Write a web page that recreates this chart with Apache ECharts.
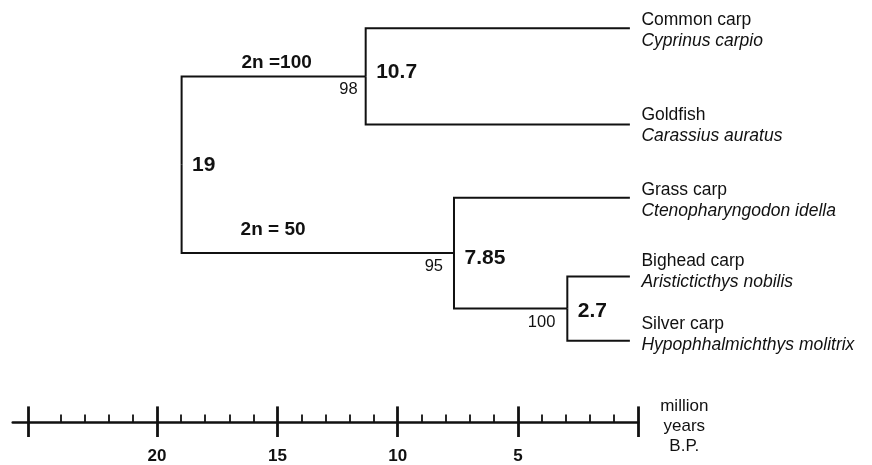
<!DOCTYPE html>
<html><head><meta charset="utf-8">
<script src="https://cdn.jsdelivr.net/npm/echarts@6/dist/echarts.min.js"></script>
<style>html,body{margin:0;padding:0;background:#fff}#chart{width:872px;height:465px}</style>
</head><body><div id="chart"></div>
<script>
// ---- Data ----
// Tips, top to bottom
const tipNames = ['Common carp', 'Goldfish', 'Grass carp', 'Bighead carp', 'Silver carp'];
const tipSpecies = ['Cyprinus carpio', 'Carassius auratus', 'Ctenopharyngodon idella', 'Aristicticthys nobilis', 'Hypophhalmichthys molitrix'];
const tipRows = [0.283, 1.25, 1.983, 2.773, 3.417];
const tipAge = 0.35;
// Internal nodes: root, carp+goldfish, grass+bighead+silver, bighead+silver
const nodeAges = [18.98, 11.33, 7.66, 2.95];
const nodeAgeLabels = ['19', '10.7', '7.85', '2.7'];
const nodeSupport = ['', '98', '95', '100'];
const nodeChildren = [['n1', 'n2'], ['t0', 't1'], ['t2', 'n3'], ['t3', 't4']];
// Chromosome-number labels on the two root branches
const chromosomeLabels = ['2n =100', '2n = 50'];
const chromosomeNodes = ['n1', 'n2'];
const chromosomeAges = [15.03, 15.18];
// Time scale
const majorTicks = [0, 5, 10, 15, 20, 25.35];
const majorLabels = [5, 10, 15, 20];
const minorTicks = [1, 2, 3, 4, 6, 7, 8, 9, 11, 12, 13, 14, 16, 17, 18, 19, 21, 22, 23, 24];
const axisTitle = ['million', 'years', 'B.P.'];
const axisMin = 0, axisMax = 26, rowMax = 4.233;

// ---- Layout helpers (styles / offsets) ----
const FONT = 'Liberation Sans, Arial, Helvetica, sans-serif';
const INK = '#111';
const tipLabelShift = [0, -1.5, 0, -7.5, -8.5];
const ageLabelDy = [0, -4, 5, 3];
const supportDx = [0, -8, -11, -12];
const chromDy = [-14, -23];

function pos(id) {
  const i = +id.slice(1);
  if (id[0] === 't') return [tipAge, tipRows[i]];
  const ys = nodeChildren[i].map(c => pos(c)[1]);
  return [nodeAges[i], (ys[0] + ys[ys.length - 1]) / 2];
}

const edges = [];
nodeChildren.forEach((kids, i) => {
  const p = pos('n' + i);
  kids.forEach(k => {
    const c = pos(k);
    edges.push({ coords: [[p[0], p[1]], [p[0], c[1]], [c[0], c[1]]] });
  });
});

const texts = [];
function addText(x, y, text, dx, dy, size, weight, style, align) {
  texts.push({ x, y, text, dx, dy, size, weight: weight || 'normal', style: style || 'normal', align: align || 'left' });
}
tipNames.forEach((n, i) => {
  addText(tipAge, tipRows[i], n, 11.5, -7.8 + tipLabelShift[i], 17.5);
  addText(tipAge, tipRows[i], tipSpecies[i], 11.5, 13.2 + tipLabelShift[i], 17.5, 'normal', 'italic');
});
nodeAges.forEach((a, i) => {
  const p = pos('n' + i);
  addText(p[0], p[1], nodeAgeLabels[i], 10.5, ageLabelDy[i], 21, 'bold');
  if (nodeSupport[i]) addText(p[0], p[1], nodeSupport[i], supportDx[i], 13.5, 16.5, 'normal', 'normal', 'right');
});
chromosomeLabels.forEach((t, i) => {
  const p = pos(chromosomeNodes[i]);
  addText(chromosomeAges[i], p[1], t, 0, chromDy[i], 19, 'bold', 'normal', 'center');
});
axisTitle.forEach((t, i) => {
  addText(axisMin, rowMax, t, 46, -16 + i * 20, 17, 'normal', 'normal', 'center');
});

function timeAxis(extra) {
  const base = {
    type: 'value', gridIndex: 0, position: 'bottom', inverse: true,
    min: axisMin, max: axisMax,
    splitLine: { show: false },
    axisLine: { show: false, onZero: false },
    axisLabel: { show: false },
    axisTick: { show: false }
  };
  const o = Object.assign(base, extra);
  o.axisLine = Object.assign({ onZero: false }, o.axisLine);
  return o;
}

const chart = echarts.init(document.getElementById('chart'));
chart.setOption({
  animation: false,
  backgroundColor: '#fff',
  grid: { left: 12.7, right: 233.7, top: 0, height: 423.3, containLabel: false },
  xAxis: [
    timeAxis({
      axisLine: { show: true, onZero: false, lineStyle: { color: INK, width: 2.5 } },
      axisTick: { show: true, inside: true, length: 15.6, customValues: majorTicks, lineStyle: { color: INK, width: 2.8 } },
      axisLabel: { show: true, customValues: majorLabels, margin: 26, color: INK, fontSize: 17, fontWeight: 'bold', fontFamily: FONT }
    }),
    timeAxis({
      axisLine: { show: false, onZero: false },
      axisTick: { show: true, inside: false, length: 15, customValues: majorTicks, lineStyle: { color: INK, width: 2.8 } }
    }),
    timeAxis({
      axisLine: { show: false, onZero: false },
      axisTick: { show: true, inside: true, length: 7.5, customValues: minorTicks, lineStyle: { color: INK, width: 1.8 } }
    })
  ],
  yAxis: { type: 'value', inverse: true, min: 0, max: rowMax, show: false, splitLine: { show: false } },
  series: [
    {
      type: 'lines', coordinateSystem: 'cartesian2d', xAxisIndex: 0, yAxisIndex: 0,
      polyline: true, silent: true,
      lineStyle: { color: INK, width: 2, opacity: 1 },
      data: edges
    },
    {
      type: 'custom', coordinateSystem: 'cartesian2d', xAxisIndex: 0, yAxisIndex: 0, silent: true, clip: false,
      data: texts.map((t, i) => [t.x, t.y, i]),
      encode: { x: 0, y: 1 },
      renderItem: function (params, api) {
        const t = texts[api.value(2)];
        const p = api.coord([api.value(0), api.value(1)]);
        return {
          type: 'text', x: p[0] + t.dx, y: p[1] + t.dy,
          style: {
            text: t.text, fill: INK, fontSize: t.size, fontWeight: t.weight, fontStyle: t.style,
            fontFamily: FONT, align: t.align, verticalAlign: 'middle'
          }
        };
      }
    }
  ]
});
</script>
</body></html>
